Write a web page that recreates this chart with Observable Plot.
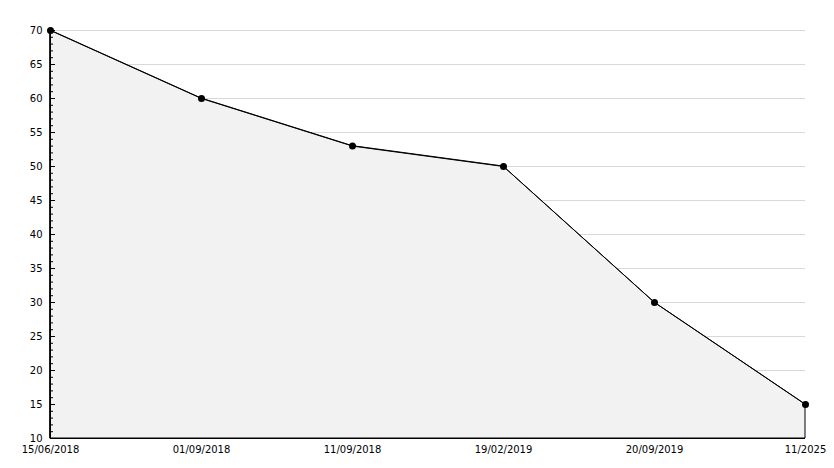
<!DOCTYPE html>
<html>
<head>
<meta charset="utf-8">
<script src="https://cdn.jsdelivr.net/npm/d3@7"></script>
<script src="https://cdn.jsdelivr.net/npm/@observablehq/plot@0.6"></script>
<style>
  html, body { margin: 0; padding: 0; background: #fff; }
  #chart svg { display: block; }
</style>
</head>
<body>
<div id="chart"></div>
<script>
const labels = ["15/06/2018", "01/09/2018", "11/09/2018", "19/02/2019", "20/09/2019", "11/2025"];
const values = [70, 60, 53, 50, 30, 15];
const majorTicks = [10, 15, 20, 25, 30, 35, 40, 45, 50, 55, 60, 65, 70];
const minorTicks = d3.range(10, 71, 1);

const data = labels.map((label, i) => ({label, value: values[i]}));

const chart = Plot.plot({
  width: 834,
  height: 468,
  marginLeft: 50,
  marginRight: 29,
  marginTop: 30,
  marginBottom: 30,
  style: {fontFamily: "DejaVu Sans", fontSize: "10px", color: "#000", background: "#fff"},
  x: {type: "point", domain: labels, padding: 0, label: null},
  y: {domain: [10, 70], label: null},
  marks: [
    Plot.ruleY(majorTicks, {stroke: "#d9d9d9", strokeWidth: 1}),
    Plot.areaY(data, {x: "label", y: "value", y1: 10, fill: "#f2f2f2", stroke: "#000", strokeWidth: 1}),
    Plot.lineY(data, {x: "label", y: "value", stroke: "#000", strokeWidth: 1}),
    Plot.dot(data, {x: "label", y: "value", r: 3.5, fill: "#000", stroke: "none"}),
    Plot.ruleX([labels[0]], {stroke: "#000"}),
    Plot.ruleY([10], {stroke: "#000"}),
    Plot.axisY({ticks: minorTicks, tickSize: -3, text: null, label: null, stroke: "#000"}),
    Plot.axisY({ticks: majorTicks, tickSize: -5, text: null, label: null, stroke: "#000"}),
    Plot.axisY({ticks: majorTicks, tickSize: 0, tickPadding: 8, label: null, fill: "#000"}),
    Plot.axisX({tickSize: 0, tickPadding: 7, label: null, fill: "#000"})
  ]
});
document.getElementById("chart").appendChild(chart);
</script>
</body>
</html>
